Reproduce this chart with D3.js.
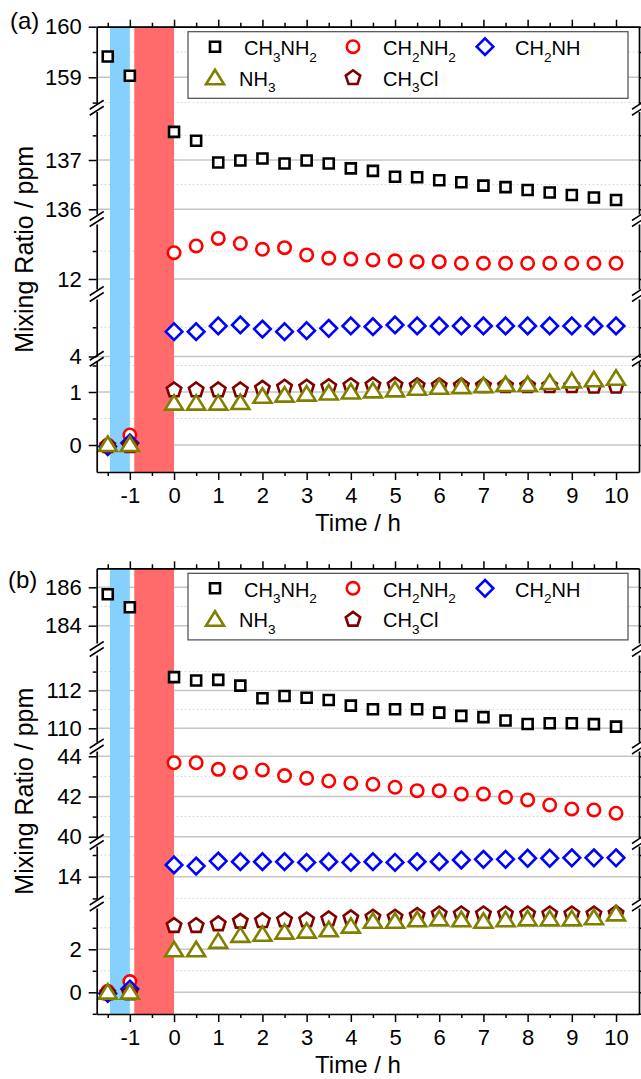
<!DOCTYPE html>
<html>
<head>
<meta charset="utf-8">
<script src="https://d3js.org/d3.v7.min.js"></script>
<style>
  body { margin: 0; background: white; }
  text { font-family: "Liberation Sans", Arial, sans-serif; }
</style>
</head>
<body>
<svg id="chart" width="641" height="1079"></svg>
<script>
// ---- data ----
var times = [-1.5, -1, 0, 0.5, 1, 1.5, 2, 2.5, 3, 3.5, 4, 4.5, 5, 5.5, 6, 6.5, 7, 7.5, 8, 8.5, 9, 9.5, 10];
var seriesNames = ["CH3NH2", "CH2NH2", "CH2NH", "NH3", "CH3Cl"];

// panel (a)
var ch3nh2A = [159.41, 159.03, 137.57, 137.39, 136.95, 136.99, 137.03, 136.93, 136.99, 136.93, 136.83, 136.78, 136.66, 136.65, 136.59, 136.55, 136.48, 136.45, 136.39, 136.34, 136.29, 136.24, 136.19];
var ch2nh2A = [0.00, 0.19, 12.94, 13.18, 13.45, 13.27, 13.06, 13.12, 12.86, 12.74, 12.71, 12.68, 12.65, 12.62, 12.62, 12.56, 12.56, 12.56, 12.56, 12.56, 12.56, 12.56, 12.56];
var ch2nhA  = [-0.03, 0.04, 5.70, 5.70, 6.09, 6.16, 5.88, 5.70, 5.77, 5.93, 6.09, 6.04, 6.16, 6.09, 6.09, 6.09, 6.09, 6.09, 6.09, 6.09, 6.09, 6.09, 6.09];
var nh3A    = [0.02, 0.02, 0.80, 0.80, 0.80, 0.81, 0.93, 0.95, 0.97, 0.99, 1.01, 1.03, 1.05, 1.08, 1.10, 1.11, 1.13, 1.15, 1.15, 1.19, 1.22, 1.24, 1.27];
var ch3clA  = [0.00, 0.00, 1.05, 1.05, 1.05, 1.05, 1.08, 1.10, 1.10, 1.11, 1.13, 1.14, 1.14, 1.13, 1.13, 1.13, 1.13, 1.13, 1.13, 1.13, 1.13, 1.12, 1.12];

// panel (b)
var ch3nh2B = [185.64, 184.96, 112.71, 112.53, 112.56, 112.26, 111.59, 111.71, 111.62, 111.50, 111.20, 111.01, 111.01, 111.01, 110.83, 110.66, 110.59, 110.41, 110.23, 110.27, 110.27, 110.22, 110.09];
var ch2nh2B = [0.05, 0.50, 43.68, 43.68, 43.35, 43.20, 43.32, 43.04, 42.91, 42.77, 42.66, 42.61, 42.46, 42.29, 42.29, 42.12, 42.12, 41.96, 41.83, 41.58, 41.38, 41.33, 41.17];
var ch2nhB  = [-0.05, 0.15, 14.54, 14.49, 14.72, 14.69, 14.69, 14.69, 14.66, 14.69, 14.66, 14.69, 14.66, 14.69, 14.69, 14.77, 14.80, 14.80, 14.85, 14.85, 14.87, 14.87, 14.87];
var nh3B    = [0.03, 0.03, 2.00, 2.00, 2.39, 2.67, 2.72, 2.82, 2.87, 2.93, 3.10, 3.33, 3.33, 3.40, 3.44, 3.40, 3.33, 3.40, 3.44, 3.44, 3.44, 3.49, 3.67];
var ch3clB  = [0.00, 0.00, 3.13, 3.13, 3.21, 3.33, 3.36, 3.39, 3.39, 3.44, 3.49, 3.52, 3.52, 3.60, 3.67, 3.67, 3.67, 3.67, 3.67, 3.67, 3.67, 3.67, 3.70];

// ticks
var xMajor = [-1, 0, 1, 2, 3, 4, 5, 6, 7, 8, 9, 10];
var xMinor = [-1.5, -0.5, 0.5, 1.5, 2.5, 3.5, 4.5, 5.5, 6.5, 7.5, 8.5, 9.5];
var yMajorA = [160, 159, 137, 136, 12, 4, 1, 0];
var yMinorA = [159.5, 158.5, 137.5, 136.5, 13, 6, 0.5, 1.5];
var yMajorB = [186, 184, 112, 110, 44, 42, 40, 14, 2, 0];
var yMinorB = [187, 185, 113, 111, 43, 41, 15, 13, 3, 1, -1];

// shaded periods (h)
var blueBand = [-1.45, -1.0];
var redBand = [-0.9, 0];

// ---- layout ----
var svg = d3.select("#chart");
var left = 96.7, right = 639;
var x = d3.scaleLinear().domain([-1.75, 10.52]).range([left, right]);

var shapes = ["square", "circle", "diamond", "triangle", "pentagon"];
var colors = ["#000000", "#ff0000", "#0000ff", "#808000", "#800000"];
var drawOrder = [0, 1, 2, 4, 3];

function shapePath(shape) {
  var p = d3.path();
  if (shape == "square") {
    p.rect(-5, -5, 10, 10);
  } else if (shape == "circle") {
    p.arc(0, 0, 6.2, 0, 2 * Math.PI);
    p.closePath();
  } else if (shape == "diamond") {
    p.moveTo(0, -8.3); p.lineTo(8.3, 0); p.lineTo(0, 8.3); p.lineTo(-8.3, 0); p.closePath();
  } else if (shape == "triangle") {
    p.moveTo(0, -7.5); p.lineTo(9, 7); p.lineTo(-9, 7); p.closePath();
  } else {
    var R = 7.6, off = 0.095 * R;
    for (var k = 0; k < 5; k++) {
      var a = -Math.PI / 2 + k * 2 * Math.PI / 5;
      if (k == 0) p.moveTo(R * Math.cos(a), R * Math.sin(a) + off);
      else p.lineTo(R * Math.cos(a), R * Math.sin(a) + off);
    }
    p.closePath();
  }
  return p.toString();
}

function addFormula(sel, str, size) {
  // digits in the formula are subscripts
  var parts = str.match(/[0-9]+|[^0-9]+/g);
  var down = false;
  parts.forEach(function(t) {
    var isSub = /[0-9]/.test(t);
    var ts = sel.append("tspan").text(t);
    if (isSub) { ts.attr("font-size", size * 0.68).attr("dy", 6.5); down = true; }
    else if (down) { ts.attr("dy", -6.5); down = false; }
  });
}

var panelA = {
  top: 26.7, bottom: 472, label: "(a)", labelX: 10, labelY: 29,
  series: [ch3nh2A, ch2nh2A, ch2nhA, nh3A, ch3clA],
  majors: yMajorA, minors: yMinorA,
  segs: [
    {v1: 160, p1: 26.7, v2: 159, p2: 77.3, top: 26.7, bot: 104},
    {v1: 137, p1: 160, v2: 136, p2: 209.3, top: 111.5, bot: 214},
    {v1: 13, p1: 251, v2: 12, p2: 279, top: 224, bot: 289},
    {v1: 6, p1: 327.3, v2: 4, p2: 356.5, top: 299, bot: 356.5},
    {v1: 1, p1: 392, v2: 0, p2: 445, top: 361, bot: 472}
  ]
};
var panelB = {
  top: 568.3, bottom: 1014, label: "(b)", labelX: 8, labelY: 587.5,
  series: [ch3nh2B, ch2nh2B, ch2nhB, nh3B, ch3clB],
  majors: yMajorB, minors: yMinorB,
  segs: [
    {v1: 186, p1: 587.3, v2: 184, p2: 625.7, top: 568.3, bot: 643},
    {v1: 112, p1: 690.5, v2: 110, p2: 728.3, top: 655, bot: 742},
    {v1: 44, p1: 756.3, v2: 40, p2: 836.7, top: 751, bot: 838},
    {v1: 15, p1: 855, v2: 14, p2: 876.7, top: 846, bot: 899},
    {v1: 2, p1: 949.3, v2: 0, p2: 992.3, top: 908, bot: 1014}
  ]
};

function drawPanel(P) {
  P.segs.forEach(function(s) {
    var anchor = d3.scaleLinear().domain([s.v1, s.v2]).range([s.p1, s.p2]);
    s.scale = d3.scaleLinear().domain([anchor.invert(s.bot), anchor.invert(s.top)]).range([s.bot, s.top]);
  });
  function inSeg(s, v) {
    var d = s.scale.domain();
    return v >= d[0] - 0.005 && v <= d[1] + 0.005;
  }
  function yPos(v) {
    var best = P.segs[0], dist = Infinity;
    P.segs.forEach(function(s) {
      var d = s.scale.domain();
      var dd = inSeg(s, v) ? 0 : Math.min(Math.abs(v - d[0]), Math.abs(v - d[1]));
      if (dd < dist) { dist = dd; best = s; }
    });
    return best.scale(v);
  }

  var g = svg.append("g");

  // grid lines
  P.segs.forEach(function(s) {
    g.selectAll(null).data(P.minors.filter(function(v) { return inSeg(s, v); }))
      .enter().append("line")
      .attr("x1", left).attr("x2", right)
      .attr("y1", function(d) { return s.scale(d); }).attr("y2", function(d) { return s.scale(d); })
      .attr("stroke", "#cfcfcf").attr("stroke-width", 1).attr("stroke-dasharray", "1.5,2.5");
    g.selectAll(null).data(P.majors.filter(function(v) { return inSeg(s, v); }))
      .enter().append("line")
      .attr("x1", left).attr("x2", right)
      .attr("y1", function(d) { return s.scale(d); }).attr("y2", function(d) { return s.scale(d); })
      .attr("stroke", "#c6c6c6").attr("stroke-width", 1.4);
  });

  // shaded periods
  g.append("rect")
    .attr("x", x(blueBand[0])).attr("width", x(blueBand[1]) - x(blueBand[0]))
    .attr("y", P.top).attr("height", P.bottom - P.top)
    .attr("fill", "#86d0fd");
  g.append("rect")
    .attr("x", x(redBand[0])).attr("width", x(redBand[1]) - x(redBand[0]))
    .attr("y", P.top).attr("height", P.bottom - P.top)
    .attr("fill", "#ff6a6a");

  // legend
  var lg = g.append("g");
  lg.append("rect")
    .attr("x", 188).attr("y", P.top + 5).attr("width", 440).attr("height", 66.6)
    .attr("fill", "white").attr("stroke", "#4a4a4a").attr("stroke-width", 1.2);
  var legendPos = [
    {sx: 215, tx: 244, row: 0}, {sx: 353, tx: 383, row: 0}, {sx: 485, tx: 515, row: 0},
    {sx: 215, tx: 239, row: 1}, {sx: 353, tx: 383, row: 1}
  ];
  seriesNames.forEach(function(name, i) {
    var lp = legendPos[i];
    lg.append("path")
      .attr("d", shapePath(shapes[i]))
      .attr("transform", "translate(" + lp.sx + "," + (P.top + 20 + lp.row * 30.5) + ")")
      .attr("fill", "white").attr("stroke", colors[i]).attr("stroke-width", 2.6);
    var t = lg.append("text")
      .attr("x", lp.tx).attr("y", P.top + 28.3 + lp.row * 30.5)
      .attr("font-size", 20).attr("fill", "#000");
    addFormula(t, name, 20);
  });

  // markers
  drawOrder.forEach(function(i) {
    var pts = times.map(function(t, k) { return {t: t, v: P.series[i][k]}; });
    g.selectAll(null).data(pts).enter().append("path")
      .attr("d", shapePath(shapes[i]))
      .attr("transform", function(d) { return "translate(" + x(d.t) + "," + yPos(d.v) + ")"; })
      .attr("fill", "white").attr("stroke", colors[i]).attr("stroke-width", 2.6)
      .attr("stroke-linejoin", "miter");
  });

  // axes
  function styleAxis(sel) {
    sel.attr("font-size", 22).attr("font-family", "'Liberation Sans', Arial, sans-serif");
    sel.selectAll("line").attr("stroke-width", 1.5);
    sel.selectAll("path").attr("stroke-width", 1.7);
  }
  var fmt = function(d) { return String(d); };

  var bx = g.append("g").attr("transform", "translate(0," + P.bottom + ")")
    .call(d3.axisBottom(x).tickValues(xMajor).tickSize(8).tickSizeOuter(0).tickPadding(7.2).tickFormat(fmt));
  styleAxis(bx);
  var bxm = g.append("g").attr("transform", "translate(0," + P.bottom + ")")
    .call(d3.axisBottom(x).tickValues(xMinor).tickSize(4).tickSizeOuter(0).tickFormat(""));
  bxm.select(".domain").remove(); styleAxis(bxm);
  var tx = g.append("g").attr("transform", "translate(0," + P.top + ")")
    .call(d3.axisTop(x).tickValues(xMajor).tickSize(7).tickSizeOuter(0).tickFormat(""));
  styleAxis(tx);
  var txm = g.append("g").attr("transform", "translate(0," + P.top + ")")
    .call(d3.axisTop(x).tickValues(xMinor).tickSize(4).tickSizeOuter(0).tickFormat(""));
  txm.select(".domain").remove(); styleAxis(txm);

  P.segs.forEach(function(s) {
    var maj = P.majors.filter(function(v) { return inSeg(s, v); });
    var min = P.minors.filter(function(v) { return inSeg(s, v); });
    var la = g.append("g").attr("transform", "translate(" + left + ",0)")
      .call(d3.axisLeft(s.scale).tickValues(maj).tickSize(8).tickSizeOuter(0).tickPadding(7).tickFormat(fmt));
    styleAxis(la);
    var lam = g.append("g").attr("transform", "translate(" + left + ",0)")
      .call(d3.axisLeft(s.scale).tickValues(min).tickSize(4).tickSizeOuter(0).tickFormat(""));
    lam.select(".domain").remove(); styleAxis(lam);
    var ra = g.append("g").attr("transform", "translate(" + right + ",0)")
      .call(d3.axisRight(s.scale).tickValues(maj).tickSize(8).tickSizeOuter(0).tickFormat(""));
    styleAxis(ra);
    var ram = g.append("g").attr("transform", "translate(" + right + ",0)")
      .call(d3.axisRight(s.scale).tickValues(min).tickSize(4).tickSizeOuter(0).tickFormat(""));
    ram.select(".domain").remove(); styleAxis(ram);
  });

  // axis break marks
  for (var k = 0; k < P.segs.length - 1; k++) {
    var yc = (P.segs[k].bot + P.segs[k + 1].top) / 2;
    [left, right].forEach(function(ax) {
      [-3, 3].forEach(function(dy) {
        g.append("line")
          .attr("x1", ax - 7).attr("y1", yc + dy + 4.5)
          .attr("x2", ax + 7).attr("y2", yc + dy - 4.5)
          .attr("stroke", "#000").attr("stroke-width", 1.5);
      });
    });
  }

  // titles
  g.append("text")
    .attr("transform", "translate(33," + ((P.top + P.bottom) / 2) + ") rotate(-90)")
    .attr("text-anchor", "middle").attr("font-size", 25).attr("fill", "#000")
    .text("Mixing Ratio / ppm");
  g.append("text")
    .attr("x", 358).attr("y", P.bottom + 59)
    .attr("text-anchor", "middle").attr("font-size", 24).attr("fill", "#000")
    .text("Time / h");
  g.append("text")
    .attr("x", P.labelX).attr("y", P.labelY)
    .attr("font-size", 24).attr("fill", "#000")
    .text(P.label);
}

drawPanel(panelA);
drawPanel(panelB);
</script>
</body>
</html>
